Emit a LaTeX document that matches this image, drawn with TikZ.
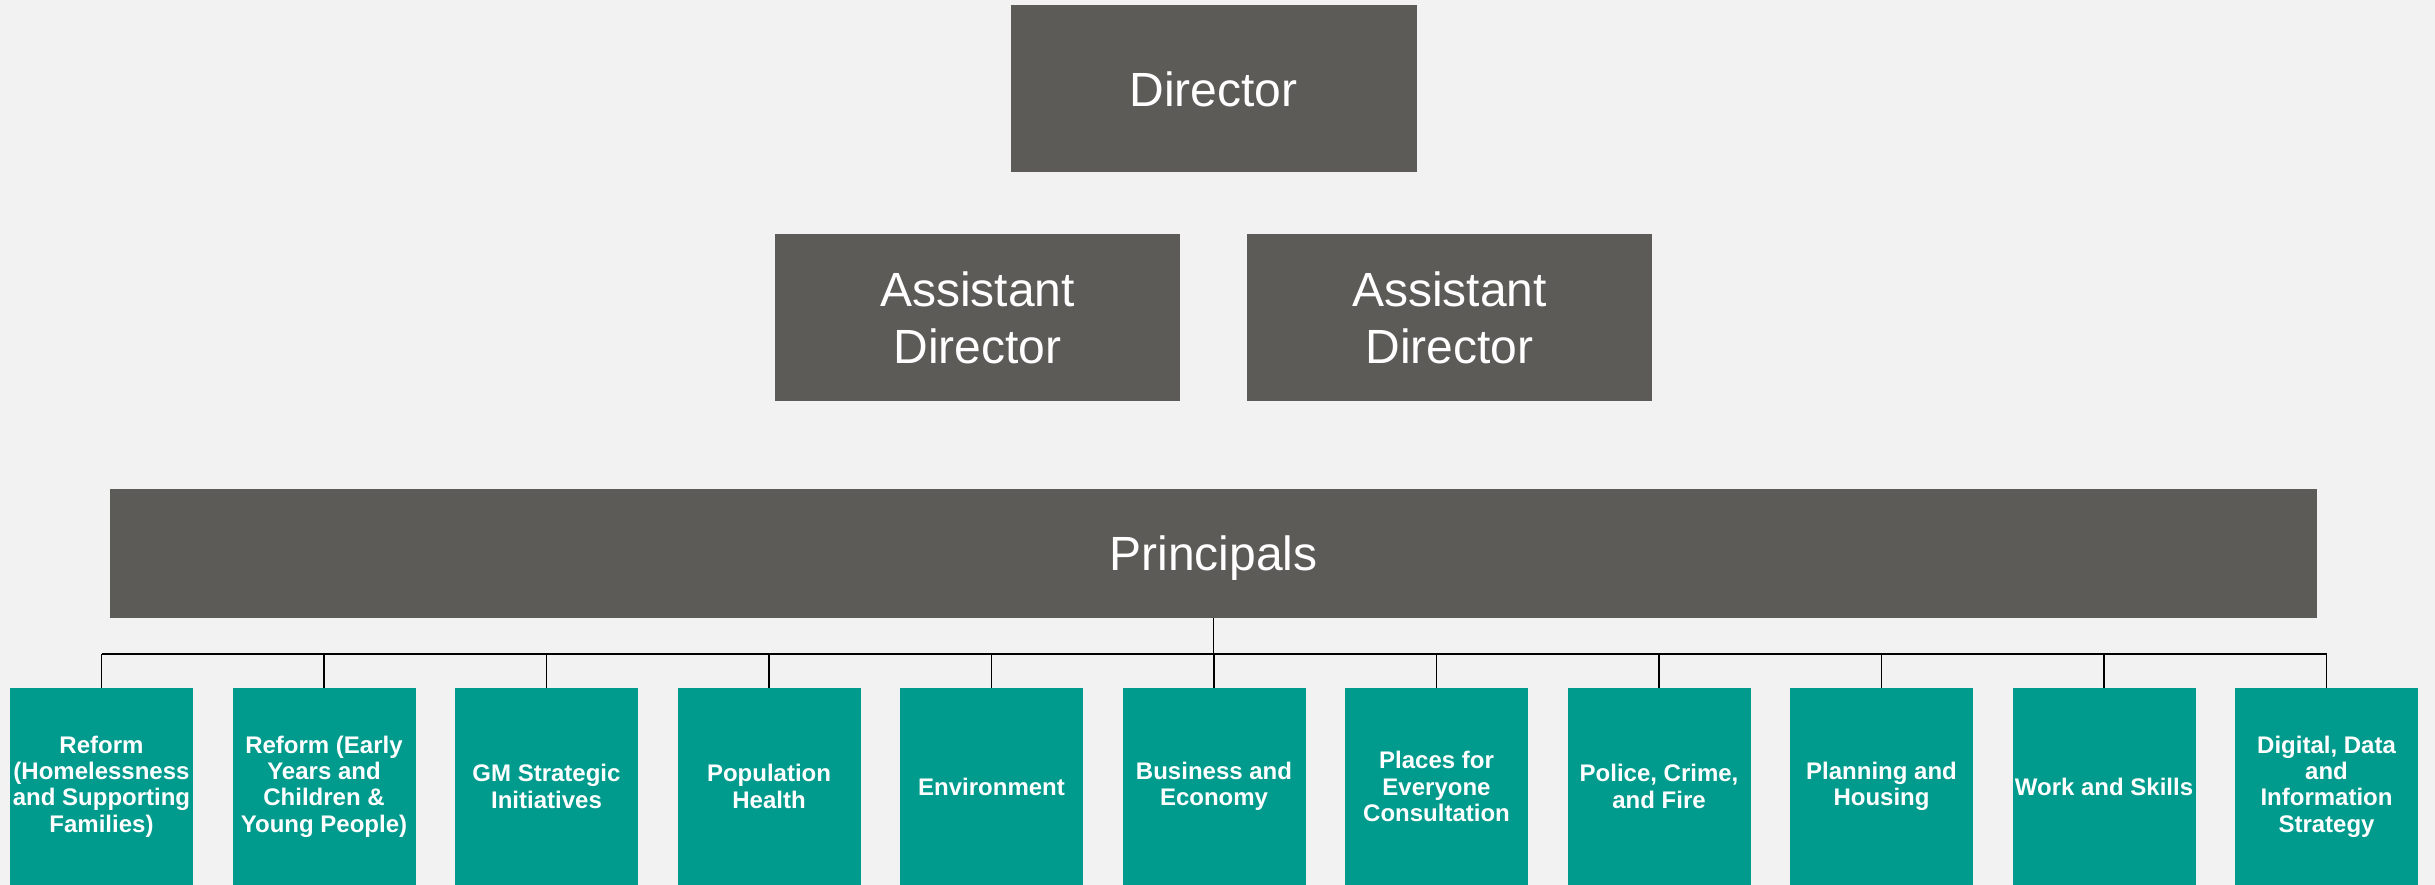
\documentclass[tikz,border=0pt]{standalone}
\usepackage{fontspec}
\setmainfont{Liberation Sans}
\usetikzlibrary{calc}
\definecolor{bggray}{HTML}{F2F2F2}
\definecolor{boxgray}{HTML}{5D5B58}
\definecolor{unitteal}{HTML}{009B8D}
\tikzset{
  headbox/.style={rectangle,fill=boxgray,text=white,align=center,inner sep=0pt,font=\fontsize{48}{57}\selectfont},
  teambox/.style={rectangle,fill=unitteal,text=white,align=center,inner sep=0pt,minimum width=183pt,minimum height=197pt,font=\bfseries\fontsize{24}{26.4}\selectfont},
  busline/.style={draw=black,line width=1.6pt}
}

\begin{document}
\begin{tikzpicture}[x=1pt,y=-1pt]
\fill[bggray] (0,0) rectangle (2435,885);
\useasboundingbox (0,0) rectangle (2435,885);
\node[headbox,minimum width=406pt,minimum height=167pt] (dir) at (1213.5,89) {Director};
\node[headbox,minimum width=405pt,minimum height=167pt] (ad1) at (977.5,317.5) {Assistant\\Director};
\node[headbox,minimum width=405pt,minimum height=167pt] (ad2) at (1449.5,317.5) {Assistant\\Director};
\node[headbox,text depth=0pt,minimum width=2207pt,minimum height=129pt] (prin) at (1213.5,553.5) {Principals};
\coordinate (busL) at (101.5,654);
\coordinate (busR) at (2326.5,654);
\draw[busline] (prin.south) -- (prin.south |- busL);
\draw[busline] (busL) -- (busR);
\foreach \i/\txt in {1/{Reform\\(Homelessness\\and Supporting\\Families)},
                     2/{Reform (Early\\Years and\\Children \&\\Young People)},
                     3/{GM Strategic\\Initiatives},
                     4/{Population\\Health},
                     5/{Environment},
                     6/{Business and\\Economy},
                     7/{Places for\\Everyone\\Consultation},
                     8/{Police, Crime,\\and Fire},
                     9/{Planning and\\Housing},
                     10/{Work and Skills},
                     11/{Digital, Data\\and\\Information\\Strategy}} {
  \node[teambox] (b\i) at ({101.5+222.5*(\i-1)},786.5) {\txt};
  \draw[busline] (b\i.north) -- (b\i.north |- busL);
}
\end{tikzpicture}
\end{document}
